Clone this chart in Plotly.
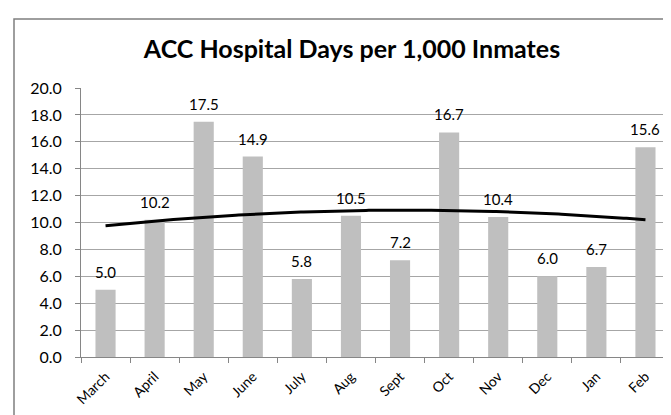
import numpy as np
import plotly.graph_objects as go

months = ["March", "April", "May", "June", "July", "Aug", "Sept", "Oct", "Nov", "Dec", "Jan", "Feb"]
values = [5.0, 10.2, 17.5, 14.9, 5.8, 10.5, 7.2, 16.7, 10.4, 6.0, 6.7, 15.6]
y_ticks = [0, 2, 4, 6, 8, 10, 12, 14, 16, 18, 20]

xpos = np.arange(1, len(months) + 1)
coef = np.polyfit(xpos, values, 2)
xs = np.linspace(1, len(months), 200)
ys = np.polyval(coef, xs)

FONT = "Lato, Carlito, 'Liberation Sans', sans-serif"
W, H = 671, 415
L, R, T, B = 73, 9, 80, 66
PW, PH = W - L - R, H - T - B

fig = go.Figure()
fig.add_trace(go.Bar(
    x=xpos, y=values, marker=dict(color="#bfbfbf", line=dict(width=0)),
    width=0.41, hoverinfo="y",
))
fig.add_trace(go.Scatter(x=xs, y=ys, mode="lines", line=dict(color="#000000", width=3),
                         hoverinfo="skip"))

annotations = [
    dict(x=int(xv), y=v, text=f"{v:.1f}", showarrow=False, xref="x", yref="y",
         yanchor="middle", yshift=18, font=dict(size=15, color="#000000", family=FONT))
    for xv, v in zip(xpos, values)
]

fig.update_layout(
    width=W, height=H,
    margin=dict(l=L, r=R, t=T, b=B, autoexpand=False),
    paper_bgcolor="white", plot_bgcolor="white",
    showlegend=False,
    font=dict(family=FONT, color="#000000"),
    title=dict(text="<b>ACC Hospital Days per 1,000 Inmates</b>", xref="container", x=344 / W,
               xanchor="center", yref="container", y=1 - 41 / H, yanchor="middle",
               font=dict(size=25, family=FONT, color="#000000")),
    annotations=annotations,
    xaxis=dict(
        range=[0.5, 12.5], tickmode="array", tickvals=list(xpos), ticktext=months,
        tickangle=-45, tickfont=dict(size=14, family=FONT, color="#000000"), ticks="",
        ticklabelstandoff=5, automargin=False,
        showgrid=False, zeroline=False, showline=True, linecolor="#868686", linewidth=1,
        minor=dict(tickmode="array", tickvals=[i + 0.5 for i in range(0, 13)], ticks="outside",
                   ticklen=5, tickcolor="#868686", showgrid=False),
    ),
    yaxis=dict(
        range=[0, 20], tickmode="array", tickvals=y_ticks, ticktext=[f"{v:.1f}" for v in y_ticks],
        tickfont=dict(size=16, family=FONT, color="#000000"), ticks="outside", ticklen=5,
        tickcolor="#868686", ticklabelstandoff=10, automargin=False,
        showgrid=True, gridcolor="#a6a6a6", gridwidth=1, zeroline=False,
        showline=True, linecolor="#868686", linewidth=1,
    ),
    shapes=[dict(type="rect", xref="paper", yref="paper",
                 x0=(6 - L) / PW, x1=(W + 10 - L) / PW,
                 y0=(H - B - (H + 10)) / PH, y1=(H - B - 11) / PH,
                 line=dict(color="#7f7f7f", width=1.5), fillcolor="rgba(0,0,0,0)", layer="below")],
)

fig.write_html("out.html")
